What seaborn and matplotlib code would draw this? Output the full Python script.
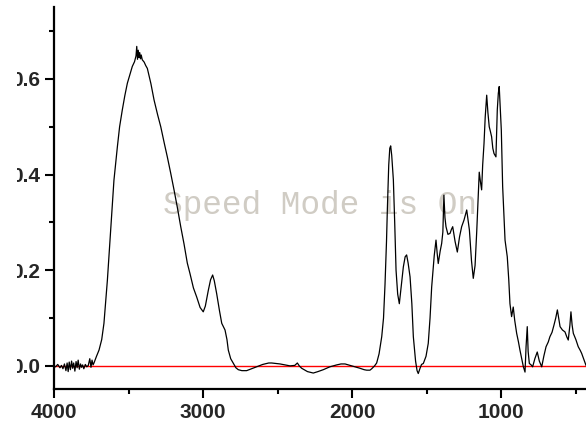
import numpy as np
import pandas as pd
import matplotlib
matplotlib.use("Agg")
import matplotlib.pyplot as plt
import seaborn as sns
from matplotlib.patches import Rectangle

# ---- data ----
wavenumber = [
    4000, 3990, 3975, 3960, 3950, 3940, 3930, 3920, 3912, 3905, 3898, 3890, 3882, 3875,
    3868, 3860, 3852, 3845, 3838, 3830, 3822, 3815, 3808, 3800, 3790, 3780, 3770, 3760,
    3752, 3745, 3738, 3732, 3715, 3698, 3680, 3665, 3642, 3620, 3598, 3575, 3560, 3542,
    3525, 3508, 3490, 3475, 3460, 3450, 3445, 3440, 3435, 3430, 3425, 3420, 3415, 3408,
    3395, 3385, 3374, 3350, 3329, 3305, 3284, 3260, 3240, 3218, 3195, 3172, 3150, 3128,
    3106, 3088, 3065, 3043, 3020, 2999, 2985, 2965, 2950, 2936, 2925, 2909, 2890, 2875,
    2853, 2840, 2831, 2815, 2797, 2780, 2764, 2740, 2708, 2675, 2641, 2600, 2560, 2540,
    2510, 2484, 2450, 2417, 2385, 2368, 2355, 2339, 2300, 2261, 2230, 2194, 2150, 2104,
    2075, 2048, 2015, 1981, 1948, 1920, 1903, 1881, 1869, 1850, 1836, 1820, 1802, 1790,
    1780, 1770, 1764, 1755, 1748, 1742, 1735, 1724, 1715, 1706, 1695, 1684, 1670, 1657,
    1645, 1635, 1625, 1612, 1600, 1590, 1575, 1565, 1557, 1545, 1535, 1523, 1505, 1490,
    1478, 1467, 1450, 1438, 1430, 1423, 1410, 1400, 1392, 1385, 1378, 1371, 1358, 1344,
    1335, 1326, 1310, 1295, 1280, 1266, 1250, 1232, 1221, 1214, 1200, 1188, 1176, 1165,
    1148, 1140, 1132, 1125, 1116, 1108, 1098, 1090, 1081, 1073, 1065, 1057, 1049, 1036,
    1027, 1020, 1014, 1007, 1000, 991, 975, 967, 960, 950, 942, 931, 920, 910,
    897, 885, 875, 863, 852, 841, 834, 826, 820, 812, 800, 790, 775, 759,
    745, 729, 715, 700, 685, 674, 660, 647, 635, 624, 615, 606, 590, 573,
    560, 551, 540, 533, 525, 517, 500, 484, 470, 461, 445, 432,
]
absorbance = [
    0.000, -0.002, 0.003, -0.004, 0.001, -0.006, 0.004, -0.010, 0.006, -0.012, 0.008, -0.008, 0.010, -0.005,
    0.006, -0.011, 0.009, -0.004, 0.012, -0.007, 0.004, -0.003, 0.002, -0.006, 0.003, -0.002, 0.001, 0.015,
    -0.003, 0.012, 0.002, 0.006, 0.020, 0.033, 0.055, 0.089, 0.179, 0.284, 0.388, 0.458, 0.500, 0.535,
    0.565, 0.591, 0.610, 0.626, 0.636, 0.648, 0.668, 0.641, 0.660, 0.645, 0.655, 0.642, 0.650, 0.640,
    0.635, 0.628, 0.622, 0.590, 0.556, 0.525, 0.500, 0.465, 0.437, 0.404, 0.368, 0.330, 0.291, 0.255,
    0.215, 0.193, 0.163, 0.144, 0.122, 0.113, 0.125, 0.158, 0.180, 0.190, 0.178, 0.151, 0.115, 0.089,
    0.075, 0.055, 0.033, 0.015, 0.005, -0.004, -0.008, -0.010, -0.010, -0.006, -0.002, 0.003, 0.006, 0.006,
    0.005, 0.004, 0.002, 0.000, 0.001, 0.006, 0.000, -0.005, -0.012, -0.015, -0.012, -0.008, -0.002, 0.002,
    0.004, 0.004, 0.001, -0.002, -0.005, -0.008, -0.009, -0.009, -0.006, 0.000, 0.006, 0.025, 0.061, 0.100,
    0.170, 0.260, 0.330, 0.420, 0.455, 0.460, 0.440, 0.389, 0.300, 0.200, 0.150, 0.130, 0.170, 0.207,
    0.228, 0.232, 0.215, 0.186, 0.130, 0.061, 0.010, -0.010, -0.016, -0.005, 0.003, 0.005, 0.020, 0.047,
    0.100, 0.165, 0.230, 0.263, 0.235, 0.214, 0.240, 0.256, 0.280, 0.357, 0.310, 0.291, 0.275, 0.277,
    0.285, 0.291, 0.260, 0.238, 0.270, 0.291, 0.305, 0.326, 0.300, 0.284, 0.220, 0.183, 0.210, 0.280,
    0.405, 0.385, 0.368, 0.420, 0.465, 0.520, 0.566, 0.530, 0.500, 0.490, 0.479, 0.455, 0.444, 0.437,
    0.535, 0.570, 0.584, 0.540, 0.493, 0.375, 0.263, 0.245, 0.228, 0.180, 0.130, 0.103, 0.123, 0.095,
    0.068, 0.050, 0.033, 0.015, -0.002, -0.013, 0.040, 0.082, 0.030, 0.005, 0.002, -0.002, 0.015, 0.029,
    0.010, -0.002, 0.020, 0.040, 0.050, 0.061, 0.070, 0.085, 0.100, 0.117, 0.100, 0.082, 0.075, 0.071,
    0.060, 0.054, 0.085, 0.113, 0.085, 0.068, 0.055, 0.040, 0.032, 0.026, 0.012, 0.001,
]
x_major_ticks = [4000, 3000, 2000, 1000]
y_major_ticks = [0.0, 0.2, 0.4, 0.6]
y_tick_labels = ["0.0", "0.2", "0.4", "0.6"]
watermark = "Speed Mode is On"

df = pd.DataFrame({"wavenumber": wavenumber, "absorbance": absorbance})

sns.set_style("white")
plt.rcParams["font.family"] = ["Liberation Sans", "DejaVu Sans"]

fig = plt.figure(figsize=(5.86, 4.28), dpi=100)
ax = fig.add_axes([54 / 586, 38.7 / 428, 1 - 54 / 586, (389.3 - 6.7) / 428])

ax.axhline(0, color="#ff0000", lw=1.0, zorder=1)
sns.lineplot(data=df, x="wavenumber", y="absorbance", ax=ax, color="black",
             lw=0.9, estimator=None, sort=False, zorder=2)

ax.set_xlim(4000, 432)
ax.set_ylim(-0.049, 0.751)
ax.set_xticks(x_major_ticks)
ax.set_xticklabels([str(v) for v in x_major_ticks])
ax.set_xticks([3500, 2500, 1500, 500], minor=True)
ax.set_yticks(y_major_ticks)
ax.set_yticklabels(y_tick_labels)
ax.set_yticks([0.1, 0.3, 0.5, 0.7], minor=True)
ax.set_xlabel("")
ax.set_ylabel("")

for s in ["top", "right"]:
    ax.spines[s].set_visible(False)
for s in ["left", "bottom"]:
    ax.spines[s].set_linewidth(1.6)
    ax.spines[s].set_color("black")

ax.tick_params(which="major", direction="out", length=6.5, width=1.5, color="black",
               labelsize=15, pad=3.5)
ax.tick_params(which="minor", direction="out", length=3.5, width=1.5, color="black")
ax.tick_params(axis="both", which="both", bottom=True, left=True)
for lab in ax.get_xticklabels() + ax.get_yticklabels():
    lab.set_fontweight("bold")

ax.text(163 / 586, 1 - 213.5 / 428, watermark, transform=fig.transFigure,
        family=["Liberation Mono", "DejaVu Sans Mono"], fontsize=23.6, color="#d0ccc4",
        ha="left", va="baseline", zorder=0.5)

# the left strip of the original image is blank (labels cut off there)
fig.patches.append(Rectangle((0, 0), 16.5 / 586, 1, transform=fig.transFigure,
                             facecolor="white", edgecolor="none", zorder=10))

fig.savefig("out.png", dpi=100)
